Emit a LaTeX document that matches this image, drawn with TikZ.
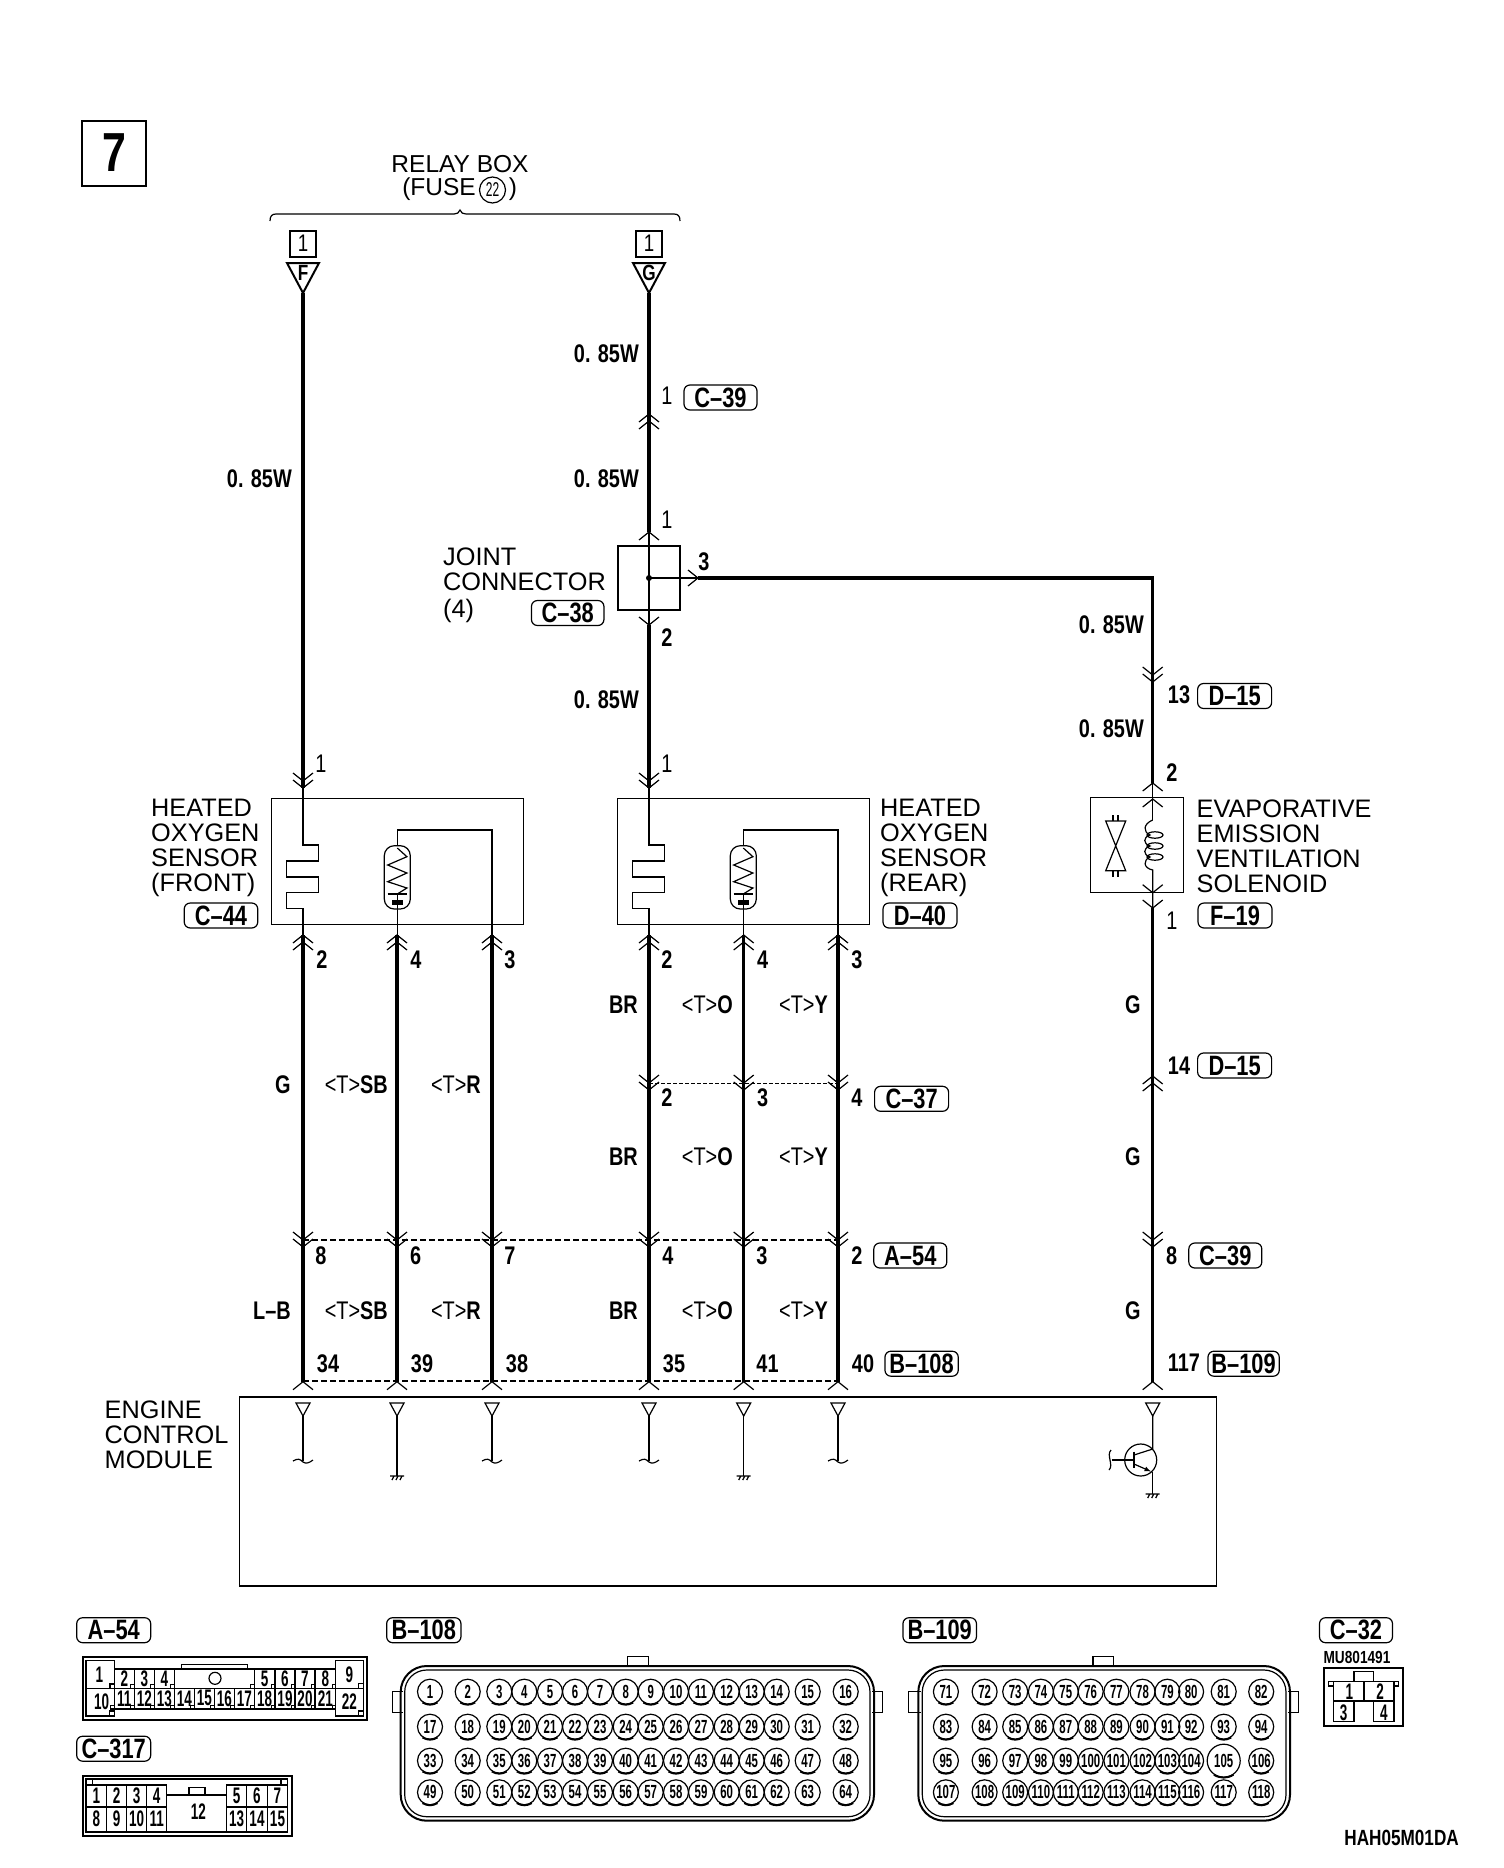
\documentclass[tikz,border=0pt]{standalone}
\usepackage{fontspec}
\setmainfont{Liberation Sans}
\newfontfamily\wirefont[FakeStretch=0.78]{Liberation Sans}
\newfontfamily\pinfont[FakeStretch=0.6]{Liberation Sans}
\newcommand{\boxfont}{\fontsize{25.3}{25}\selectfont}
\newcommand{\wirelab}{\wirefont\bfseries\fontsize{25.5}{25}\selectfont}
\newcommand{\taglab}{\wirefont\bfseries\fontsize{28}{25}\selectfont}
\newcommand{\pinlab}{\pinfont\bfseries\fontsize{19}{18}\selectfont}
\newcommand{\socklab}{\pinfont\bfseries\fontsize{22.5}{21}\selectfont}
\newcommand{\tmark}{{\mdseries<T>}}
\tikzset{
  wire/.style={line width=3.2pt},
  fine/.style={line width=1.2pt},
  heavy/.style={line width=2pt},
  title/.style={font=\boxfont, inner sep=0pt, align=left},
  wlab/.style={font=\wirelab, inner sep=0pt},
  capsule/.style={draw, fine, rounded corners=6pt, font=\taglab, inner sep=0pt,
                  minimum height=25pt},
  modbox/.style={draw, fine, inner sep=0pt},
  pinhole/.style={draw, fine, circle, inner sep=0pt, font=\pinlab},
  sock/.style={font=\socklab, inner sep=0pt},
  chevdn/.pic={\draw [fine] (-10,-8) -- (0,0) -- (10,-8);},
  chevup/.pic={\draw [fine] (-10,8) -- (0,0) -- (10,8);},
  dblchevdn/.pic={\draw [fine] (-10,-8) -- (0,0) -- (10,-8) (-10,-15) -- (0,-7) -- (10,-15);},
  dblchevup/.pic={\draw [fine] (-10,8) -- (0,0) -- (10,8) (-10,15) -- (0,7) -- (10,15);},
  gndmark/.pic={\draw [fine] (-7,0) -- (7,0) (-5,4) -- (-3,0) (-1,4) -- (1,0) (3,4) -- (5,0);},
  tildeend/.pic={\draw [fine] (-10,0) .. controls (-5,-3) and (-3,-2) .. (0,1) .. controls (3,3) and (6,2) .. (10,-1);},
  ecmpin/.pic={\draw [fine] (-7,0) -- (7,0) -- (0,13) -- cycle;},
}
\begin{document}
\begin{tikzpicture}[x=1pt,y=-1pt]
  \useasboundingbox (0,0) rectangle (1504,1868);
  % page number box
  \node [draw, heavy, minimum width=64pt, minimum height=65pt, inner sep=0pt,
         font=\wirefont\bfseries\fontsize{55}{50}\selectfont] (pageno) at (114,153) {7};
  % relay box heading
  \node [title, font=\fontsize{24.5}{25}\selectfont] (relaybox) at (460,164) {RELAY BOX};
  \node [title, anchor=east, font=\fontsize{24.5}{25}\selectfont] (fuselab) at (476,189) {(FUSE};
  \node [draw, fine, circle, minimum size=26pt, inner sep=0pt,
         font=\pinfont\fontsize{20}{20}\selectfont] (fusenum) at (492.5,190) {22};
  \node [title, font=\fontsize{24.5}{25}\selectfont] (fuseclose) at (513,189) {)};
  \draw [fine] (270,221) .. controls (270,216) and (272,214) .. (276,214) -- (454,214)
        .. controls (457,214) and (459,213) .. (460,210) .. controls (461,213) and (463,214) .. (466,214)
        -- (674,214) .. controls (678,214) and (680,216) .. (680,221);
  % fuse terminals
  \foreach \term/\x in {F/303, G/649} {
    \node [draw, heavy, minimum size=26pt, inner sep=0pt, font=\wirefont\fontsize{24}{24}\selectfont]
          (sheet\term) at (\x,243.5) {1};
    \coordinate (term\term) at (\x,293);
    \draw [heavy] (\x-16,263) -- (\x+16,263) -- (term\term) -- cycle;
    \node [font=\wirefont\bfseries\fontsize{22}{22}\selectfont, inner sep=0pt] (letter\term) at (\x,273) {\term};
  }
  % joint connector
  \node [modbox, minimum width=62pt, minimum height=64pt] (joint) at (649,578) {};
  \fill (joint.center) circle (3);
  \coordinate (jointout) at (698,578);
  \coordinate (jointup) at (649,532);
  \coordinate (jointdown) at (649,625);
  \coordinate (corner) at (1152.7,578);
  \coordinate (solin) at (1152.7,783);
  \draw [fine] (jointup) -- (jointdown);
  \draw [fine] (joint.center) -- (jointout);
  \draw [fine] (688,570) -- (jointout) -- (688,586);
  \draw [wire] (jointout) -- (corner) -- (solin);
  \draw [wire] (termG) -- (jointup);
  \pic at (649,414) {dblchevup};
  \pic at (jointup) {chevup};
  \pic at (jointdown) {chevdn};
  \pic at (1152.7,682) {dblchevdn};
  \node [title] (jointlab) at (443,585) [anchor=west] {JOINT\\CONNECTOR\\[2pt](4)};
  % oxygen sensors
  \foreach \sen/\x/\secx in {front/303/492, rear/649/838} {
    \node [modbox, minimum width=252pt, minimum height=126pt, anchor=north west]
          (\sen) at (\x-32,798) {};
    \coordinate (\sen-in) at (\x,788);
    \draw [fine] (\sen-in) -- (\x,845) -- (\x+15.6,845) -- (\x+15.6,861) -- (\x-16.6,861)
          -- (\x-16.6,877) -- (\x+15.6,877) -- (\x+15.6,892.7) -- (\x-16.6,892.7)
          -- (\x-16.6,908.7) -- (\x,908.7) -- (\x,935);
    \pic at (\sen-in) {dblchevdn};
    \pgfmathsetmacro\midx{\x+94.3}
    \draw [fine] (\midx,935) -- (\midx,830) -- (\secx,830) -- (\secx,935);
    \draw [fill=white, fine, rounded corners=10pt] (\midx-13,845.7) rectangle (\midx+13,909);
    \draw [fine] (\midx,848) -- (\midx+9.6,856.7) -- (\midx-9.6,865) -- (\midx+9.6,873) -- (\midx-9.6,881.7)
          -- (\midx+9.6,888) -- (\midx,894);
    \draw [fine] (\midx-9.6,894) -- (\midx+9.6,894) (\midx,894) -- (\midx,909);
    \fill (\midx-5.5,900) rectangle (\midx+5.5,905);
  }
  \draw [wire] (termF) -- (front-in);
  \draw [wire] (jointdown) -- (rear-in);
  \node [title, anchor=west] (frontlab) at (151,848) {HEATED\\OXYGEN\\SENSOR\\(FRONT)};
  \node [title, anchor=west] (rearlab) at (880,848) {HEATED\\OXYGEN\\SENSOR\\(REAR)};
  % solenoid
  \node [modbox, minimum width=93pt, minimum height=95pt] (sol) at (1137.3,845.3) {};
  \coordinate (solout) at (1152.7,908);
  \draw [fine] (solin) -- (1152.7,820);
  \draw [fine] (1152.7,820) .. controls (1143,824) and (1143,832) .. (1150,835)
        .. controls (1143,837) and (1143,844) .. (1150,846)
        .. controls (1143,848) and (1143,855) .. (1150,857)
        .. controls (1143,860) and (1143,868) .. (1152.7,870) -- (solout);
  \foreach \y in {835,846,857} \draw [fine] (1155,\y) ellipse (8 and 3.2);
  \pic at (solin) {chevup};
  \pic at (1152.7,799) {chevup};
  \pic at (1152.7,892.7) {chevdn};
  \pic at (solout) {chevdn};
  \draw [fine] (1105.7,821) -- (1125.7,821) -- (1105.7,870.7) -- (1125.7,870.7) -- cycle;
  \draw [fine] (1113,815) -- (1113,821) (1118,815) -- (1118,821);
  \draw [fine] (1113,871) -- (1113,877) (1118,871) -- (1118,877);
  \node [title, anchor=west] (sollab) at (1196.5,846) {EVAPORATIVE\\EMISSION\\VENTILATION\\SOLENOID};
  % ecm
  \draw [fine] (239.8,1396.7) rectangle (1216.7,1586);
  \draw [heavy] (239.8,1396.7) -- (1216.7,1396.7);
  \node [title, anchor=west] (ecmlab) at (104.5,1435) {ENGINE\\CONTROL\\MODULE};
  \foreach \w/\x in {a/303, b/397, c/492, d/649, e/743.7, f/838, g/1152.7} {
    \coordinate (pin\w) at (\x,1381.7);
    \pic at (pin\w) {chevup};
    \pic at (\x,1403) {ecmpin};
  }
  % lower wires
  \foreach \w/\x in {a/303, b/397, c/492, d/649, e/743.7, f/838} {
    \coordinate (up\w) at (\x,935);
    \draw [wire] (up\w) -- (pin\w);
    \pic at (up\w) {dblchevup};
    \pic at (\x,1247) {dblchevdn};
  }
  \foreach \w/\x in {d/649, e/743.7, f/838} \pic at (\x,1090) {dblchevdn};
  \draw [wire] (solout) -- (ping);
  \pic at (1152.7,1076) {dblchevup};
  \pic at (1152.7,1247) {dblchevdn};
  % ecm inputs
  \foreach \x in {303, 492, 649, 838} {
    \draw [fine] (\x,1416) -- (\x,1461);
    \pic at (\x,1461) {tildeend};
  }
  \foreach \x in {397, 743.7} {
    \draw [fine] (\x,1416) -- (\x,1476);
    \pic at (\x,1476) {gndmark};
  }
  % transistor
  \node [draw, fine, circle, minimum size=32pt, inner sep=0pt] (trans) at (1140.7,1460) {};
  \coordinate (transgnd) at (1152.7,1494);
  \draw [fine] (1152.7,1416) -- (1152.7,1449) -- (1134,1455);
  \draw [fine] (1134,1451.7) -- (1134,1468);
  \draw [fine] (1111.7,1460) -- (1134,1460);
  \draw [fine] (1111,1450) .. controls (1106,1455) and (1114,1465) .. (1109,1470);
  \draw [fine, -latex] (1134,1464) -- (1151,1471.5);
  \draw [fine] (1152.7,1472) -- (transgnd);
  \pic at (transgnd) {gndmark};
  % dashed ties
  \draw [fine, dash pattern=on 6pt off 3pt] (upa |- 0,1240) -- (upf |- 0,1240);
  \draw [fine, dash pattern=on 6pt off 3pt] (upa |- 0,1381) -- (upf |- 0,1381);
  \draw [line width=0.8pt, dash pattern=on 4pt off 2pt] (upd |- 0,1083) -- (upf |- 0,1083);
  % wire colours
  \foreach \txt/\x/\y in {{0. 85W}/639/354, {0. 85W}/639/479, {0. 85W}/292/479,
      {0. 85W}/639/699.5, {0. 85W}/1144/624.5, {0. 85W}/1144/729,
      G/290.7/1085, {\tmark SB}/388/1085, {\tmark R}/481/1085,
      BR/638/1004.6, {\tmark O}/733/1004.6, {\tmark Y}/828/1004.6,
      BR/638/1156.7, {\tmark O}/733/1156.7, {\tmark Y}/828/1156.7,
      {L–B}/291/1310.7, {\tmark SB}/388/1310.7, {\tmark R}/481/1310.7,
      BR/638/1310.7, {\tmark O}/733/1310.7, {\tmark Y}/828/1310.7,
      G/1140.7/1004.6, G/1140.7/1156.7, G/1140.7/1310.7}
    \node [wlab, anchor=east] at (\x,\y) {\txt};
  % terminal numbers
  \foreach \txt/\x/\y in {{\mdseries 1}/667/396, {\mdseries 1}/667/520, 3/704/562, 2/667/637.5,
      {\mdseries 1}/321/764, {\mdseries 1}/667/764,
      13/1179/695, 2/1172/772.7, {\mdseries 1}/1172/921, 14/1179/1065.4, 8/1171.7/1255.7, 117/1184/1363,
      2/322/960, 4/416/960, 3/510/960, 2/667/960, 4/762.7/960, 3/857/960,
      2/667/1097.6, 3/762.7/1097.6, 4/857/1097.6,
      8/321/1255.7, 6/415.7/1255.7, 7/510/1255.7, 4/668/1255.7, 3/762/1255.7, 2/857/1255.7,
      34/328/1364, 39/422/1364, 38/517/1364, 35/674/1364, 41/767.5/1364, 40/863/1364}
    \node [wlab] at (\x,\y) {\txt};
  % connector tags
  \foreach \nam/\txt/\x/\y/\wid in {tagca/C–39/720.5/397.5/73, tagcb/C–38/567.7/613/72.5,
      tagcc/C–44/221/915.5/73.5, tagda/D–40/920/915.5/74, tagfa/F–19/1235/915.5/74,
      tagdb/D–15/1234.6/696/74, tagdc/D–15/1234.6/1065.5/74, tagcd/C–37/911.6/1098.8/74,
      tagaa/A–54/910.3/1255.5/73, tagce/C–39/1225.3/1255.5/73, tagba/B–108/921.6/1363.7/73.3,
      tagbb/B–109/1243.6/1363.7/71.3,
      tagab/A–54/113.7/1630.2/74, tagcf/C–317/113.7/1748.7/74, tagbc/B–108/423.8/1630.2/74.3,
      tagbd/B–109/939.7/1630.2/73.5, tagcg/C–32/1356/1630.2/73}
    \node [capsule, minimum width=\wid pt] (\nam) at (\x,\y) {\txt};
  % socket A-54
  \draw [heavy] (82.7,1656.7) rectangle (367.3,1720);
  \draw [fine] (86,1660.7) rectangle (114.3,1716) (335.7,1660.7) rectangle (363.3,1716);
  \draw [fine] (86,1688.3) -- (114.3,1688.3) (335.7,1688.3) -- (363.3,1688.3);
  \draw [fine] (114.3,1669) -- (335.7,1669) (114.3,1688.3) -- (335.7,1688.3) (114.3,1709) -- (335.7,1709);
  \draw [fine] (181.7,1669) -- (181.7,1664.7) -- (247.7,1664.7) -- (247.7,1669);
  \draw [fine] (215,1678.3) circle (6);
  \foreach \x in {134.3,154.3,174.3,254.3,275,295,315} \draw [fine] (\x,1669) -- (\x,1688.3);
  \foreach \x in {134.3,154.3,174.3,194.3,214.3,234.3,254.3,275,295,315} \draw [fine] (\x,1688.3) -- (\x,1709);
  \foreach \x in {114.3,134.3,154.3,174.3,254.3,275,295,315,335.7} \draw [fine] (\x-3.5,1684.8) rectangle (\x,1688.3);
  \foreach \x in {114.3,134.3,154.3,174.3,194.3,214.3,234.3,254.3,275,295,315,335.7} \draw [fine] (\x-3.5,1705.5) rectangle (\x,1709);
  \foreach \x in {114.3,363.3} \draw [fine] (\x-5,1711) rectangle (\x,1716);
  \foreach \x in {114.3,363.3} \draw [fine] (\x-5,1683.3) rectangle (\x,1688.3);
  \foreach \txt/\x/\y in {1/99.3/1675, 10/101.7/1702, 9/349.3/1675, 22/349.3/1702,
      2/124.3/1679, 3/144.3/1679, 4/164.3/1679, 5/264.6/1679, 6/285/1679, 7/305/1679, 8/325.3/1679,
      11/124.3/1698.3, 12/144.3/1698.3, 13/164.3/1698.3, 14/184.3/1698.3, 15/204.3/1698.3, 16/224.3/1698.3,
      17/244.3/1698.3, 18/264.6/1698.3, 19/285/1698.3, 20/305/1698.3, 21/325.3/1698.3}
    \node [sock] at (\x,\y) {\txt};
  % socket C-317
  \draw [heavy] (82.7,1775.5) rectangle (291.7,1836.4);
  \draw [fine] (86,1779) -- (86,1832) -- (287.7,1832) -- (287.7,1779) -- cycle;
  \draw [fine] (86,1785) -- (92.5,1785) -- (92.5,1779) (287.7,1785) -- (281,1785) -- (281,1779);
  \draw [fine] (86,1785) rectangle (166.7,1832) (226.7,1785) rectangle (287.7,1832);
  \draw [heavy] (166.7,1795) -- (226.7,1795);
  \draw [heavy] (86,1806.7) -- (166.7,1806.7) (226.7,1806.7) -- (287.7,1806.7);
  \draw [fine] (189,1795) -- (189,1787.5) -- (205,1787.5) -- (205,1795);
  \foreach \x in {106.7,126.7,146.7,246.7,267.3} \draw [fine] (\x,1785) -- (\x,1832);
  \foreach \txt/\x/\y in {1/96.3/1795.5, 2/116.7/1795.5, 3/136.7/1795.5, 4/156.7/1795.5,
      5/236.7/1795.5, 6/257/1795.5, 7/277.5/1795.5, 12/198.3/1811.7,
      8/96.3/1819, 9/116.7/1819, 10/136.7/1819, 11/156.7/1819,
      13/236.7/1819, 14/257/1819, 15/277.5/1819}
    \node [sock] at (\x,\y) {\txt};
  % socket B-108
  \draw [fine] (627.7,1666) -- (627.7,1656.7) -- (648.3,1656.7) -- (648.3,1666);
  \draw [fine] (403,1691.7) -- (392.7,1691.7) -- (392.7,1712.3) -- (403,1712.3);
  \draw [fine] (872,1691.7) -- (882.7,1691.7) -- (882.7,1712.3) -- (872,1712.3);
  \draw [heavy, rounded corners=26pt] (400.7,1666) rectangle (874,1820.7);
  \draw [fine, rounded corners=22pt] (404.7,1670) rectangle (870,1816.7);
  \foreach \y [count=\r from 0] in {1691.7,1726.7,1760.7,1792.3}
    \foreach \x [count=\c from 1] in {430,467.7,499.3,524.3,550,575,600,625.7,650.7,676,701,726.7,751.7,776.7,807.7,845.7} {
      \pgfmathtruncatemacro\pin{\r*16+\c}
      \node [pinhole, minimum size=25pt] (pa\pin) at (\x,\y) {\pin};
      \draw [line width=2pt] (pa\pin.235) to [bend right=30] (pa\pin.305);
    }
  % socket B-109
  \draw [fine] (1093,1666) -- (1093,1656.7) -- (1113.7,1656.7) -- (1113.7,1666);
  \draw [fine] (920.5,1691.7) -- (908.7,1691.7) -- (908.7,1712.3) -- (920.5,1712.3);
  \draw [fine] (1288,1691.7) -- (1298.8,1691.7) -- (1298.8,1712.3) -- (1288,1712.3);
  \draw [heavy, rounded corners=26pt] (918.3,1666) rectangle (1290,1820.7);
  \draw [fine, rounded corners=22pt] (922.3,1670) rectangle (1286,1816.7);
  \foreach \y [count=\r from 0] in {1691.7,1726.7,1760.7,1792.3}
    \foreach \x [count=\c from 1] in {945.9,984.6,1015.2,1040.9,1065.8,1090.7,1116.4,1142.5,1167.4,1191.1,1223.7,1261.2} {
      \pgfmathtruncatemacro\pin{70+\r*12+\c}
      \def\dia{25}
      \ifnum\pin=105 \def\dia{33}\fi
      \node [pinhole, minimum size=\dia pt] (pb\pin) at (\x,\y) {\pin};
      \draw [line width=2pt] (pb\pin.235) to [bend right=30] (pb\pin.305);
    }
  % socket C-32
  \node [font=\wirefont\bfseries\fontsize{17.5}{17}\selectfont, inner sep=0pt] (partno) at (1357,1657.7) {MU801491};
  \draw [heavy] (1324.4,1667.7) rectangle (1403,1726);
  \draw [fine] (1354,1681.7) -- (1354,1671.7) -- (1373.5,1671.7) -- (1373.5,1681.7);
  \draw [fine] (1333.3,1681.7) rectangle (1364,1701) (1364,1681.7) rectangle (1394,1701);
  \draw [fine] (1333.3,1701) rectangle (1354,1721.7) (1373.5,1701) rectangle (1394,1721.7);
  \draw [fine] (1328.5,1681.7) rectangle (1333.3,1686) (1394,1681.7) rectangle (1398.7,1686);
  \foreach \txt/\x/\y in {1/1349.4/1691.7, 2/1380/1691.7, 3/1343.6/1712.3, 4/1383.8/1712.3}
    \node [sock] at (\x,\y) {\txt};
  % drawing id
  \node [wlab, anchor=east, font=\wirefont\bfseries\fontsize{22}{21}\selectfont] (drawid) at (1459,1837.7) {HAH05M01DA};
\end{tikzpicture}
\end{document}
